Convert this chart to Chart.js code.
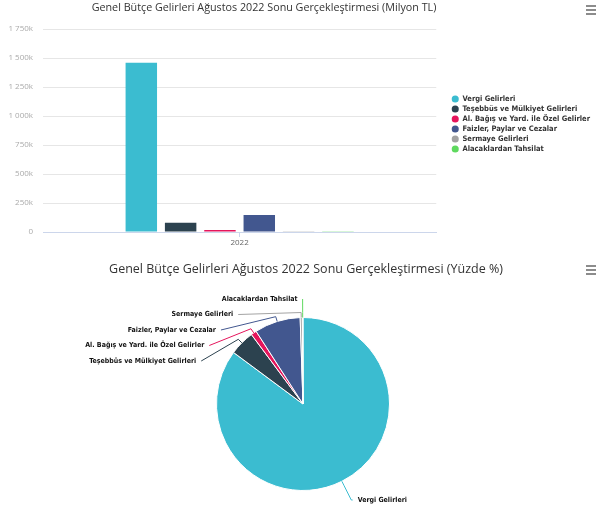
<!DOCTYPE html>
<html>
<head>
<meta charset="utf-8">
<script src="https://cdn.jsdelivr.net/npm/chart.js@4.4.1/dist/chart.umd.min.js"></script>
<style>
  body { margin: 0; background: #fff; }
  canvas { display: block; }
</style>
</head>
<body>
<canvas id="barChart" width="600" height="255"></canvas>
<canvas id="pieChart" width="600" height="253"></canvas>
<script>
var categories = ['2022'];
var seriesNames = [
  'Vergi Gelirleri',
  'Teşebbüs ve Mülkiyet Gelirleri',
  'Al. Bağış ve Yard. ile Özel Gelirler',
  'Faizler, Paylar ve Cezalar',
  'Sermaye Gelirleri',
  'Alacaklardan Tahsilat'
];
// Milyon TL
var seriesValues = [1458000, 80000, 18000, 147000, 7000, 2000];
var seriesColors = ['#3bbcd0', '#2c424f', '#e5155c', '#42578f', '#a3a3a3', '#5fd95f'];
var yTicks = [0, 250000, 500000, 750000, 1000000, 1250000, 1500000, 1750000];

var narrow = '"Liberation Sans Narrow", "DejaVu Sans Condensed", "Liberation Sans", sans-serif';
var titleFont = '"Open Sans", "Liberation Sans", sans-serif';

function fmtK(v) {
  if (v === 0) return '0';
  return String(v / 1000).replace(/\B(?=(\d{3})+(?!\d))/g, ' ') + 'k';
}

// title + menu icon drawn where the original has them
var titlePlugin = {
  id: 'fixedTitle',
  afterDraw: function(chart, args, o) {
    var ctx = chart.ctx;
    ctx.save();
    ctx.font = o.font;
    ctx.fillStyle = '#333';
    ctx.textAlign = 'center';
    ctx.textBaseline = 'middle';
    ctx.fillText(o.text, o.x, o.y);
    ctx.strokeStyle = '#666';
    ctx.lineWidth = 1.5;
    o.menuY.forEach(function(y) {
      ctx.beginPath();
      ctx.moveTo(586, y);
      ctx.lineTo(596, y);
      ctx.stroke();
    });
    ctx.restore();
  }
};

// highcharts-like outside labels with crooked connectors
var pieLabelsPlugin = {
  id: 'pieLabels',
  afterDatasetsDraw: function(chart, args, o) {
    var ctx = chart.ctx;
    var arcs = chart.getDatasetMeta(0).data;
    if (!arcs.length) return;
    var cx = arcs[0].x, cy = arcs[0].y, r = arcs[0].outerRadius;
    var R = r + o.distance;

    var items = arcs.map(function(arc, i) {
      var mid = (arc.startAngle + arc.endAngle) / 2;
      var cos = Math.cos(mid), sin = Math.sin(mid);
      return { i: i, mid: mid, cos: cos, sin: sin, left: cos < 0, ny: cy + R * sin, clamped: false };
    });

    [true, false].forEach(function(side) {
      var group = items.filter(function(it) { return it.left === side; })
        .sort(function(a, b) { return a.ny - b.ny; });
      var prev = -Infinity;
      group.forEach(function(it) {
        var y = Math.max(it.ny, prev + o.spacing);
        if (y < o.top) { y = o.top; it.clamped = true; }
        it.y = y;
        prev = y;
      });
      var next = Infinity;
      for (var k = group.length - 1; k >= 0; k--) {
        var it = group[k];
        var limit = Math.min(o.bottom, next - o.spacing);
        if (it.y > limit) {
          it.y = limit;
          if (limit === o.bottom) it.clamped = true;
        }
        next = it.y;
      }
    });

    function getX(y, left) {
      var dy = y - cy;
      return cx + (left ? -1 : 1) * Math.sqrt(Math.max(R * R - dy * dy, 0));
    }

    ctx.save();
    items.forEach(function(it) {
      var color = chart.data.datasets[0].backgroundColor[it.i];
      var x = getX(it.clamped ? it.ny : it.y, it.left);
      var y = it.y;
      var bx = cx + (r + 5) * it.cos, by = cy + (r + 5) * it.sin;
      var tx = cx + r * it.cos, ty = cy + r * it.sin;
      var crookX = cx + (y - cy) * it.cos / it.sin;

      ctx.strokeStyle = color;
      ctx.lineWidth = 1;
      ctx.beginPath();
      ctx.moveTo(x, y);
      if (it.left ? (crookX >= x && crookX <= bx) : (crookX <= x && crookX >= bx)) {
        ctx.lineTo(crookX, y);
      }
      ctx.lineTo(bx, by);
      ctx.lineTo(tx, ty);
      ctx.stroke();

      var text = chart.data.labels[it.i];
      var lx = it.left ? x - o.padding : x + o.padding;
      ctx.font = o.font;
      ctx.textAlign = it.left ? 'right' : 'left';
      ctx.textBaseline = 'middle';
      ctx.lineJoin = 'round';
      ctx.strokeStyle = '#fff';
      ctx.lineWidth = 2;
      ctx.strokeText(text, lx, y);
      ctx.fillStyle = '#111';
      ctx.fillText(text, lx, y);
    });
    ctx.restore();
  }
};

new Chart(document.getElementById('barChart'), {
  type: 'bar',
  data: {
    labels: categories,
    datasets: seriesNames.map(function(name, i) {
      return {
        label: name,
        data: [seriesValues[i]],
        backgroundColor: seriesColors[i],
        borderWidth: 0,
        categoryPercentage: 0.6,
        barPercentage: 0.8
      };
    })
  },
  options: {
    responsive: false,
    animation: false,
    layout: { padding: { top: 29, right: 0, bottom: 0, left: 0 } },
    scales: {
      x: {
        grid: { offset: false, drawOnChartArea: false, tickLength: 5, color: '#ccd6eb' },
        border: { color: '#ccd6eb' },
        ticks: { color: '#666', padding: 1, font: { family: titleFont, size: 8 } },
        afterFit: function(s) { s.height = 23; }
      },
      y: {
        min: 0,
        max: 1750000,
        afterBuildTicks: function(s) { s.ticks = yTicks.map(function(v) { return { value: v }; }); },
        grid: { color: '#e6e6e6', drawTicks: false },
        border: { display: false },
        ticks: {
          color: '#aaa',
          padding: 10,
          font: { family: titleFont, size: 8 },
          callback: function(v) { return fmtK(v); }
        },
        afterFit: function(s) { s.width = 43; }
      },
      // empty gap between the plot and the legend
      gap: {
        type: 'linear',
        position: 'right',
        grid: { display: false },
        border: { display: false },
        ticks: { display: false },
        afterFit: function(s) { s.width = 13; }
      }
    },
    plugins: {
      legend: {
        position: 'right',
        align: 'start',
        maxWidth: 170,
        title: { display: true, text: '', padding: { top: 51.75, bottom: 0 }, font: { size: 10 } },
        labels: {
          usePointStyle: true,
          pointStyle: 'circle',
          boxWidth: 7,
          boxHeight: 5,
          padding: 2.5,
          color: '#333',
          font: { family: narrow, size: 7.5, weight: 'bold' }
        }
      },
      tooltip: { enabled: false },
      fixedTitle: {
        text: 'Genel Bütçe Gelirleri Ağustos 2022 Sonu Gerçekleştirmesi (Milyon TL)',
        x: 264,
        y: 8,
        font: '10.75px ' + titleFont,
        menuY: [6, 10, 14]
      }
    }
  },
  plugins: [titlePlugin]
});

new Chart(document.getElementById('pieChart'), {
  type: 'pie',
  data: {
    labels: seriesNames,
    datasets: [{
      data: seriesValues,
      backgroundColor: seriesColors,
      borderColor: '#ffffff',
      borderWidth: 1
    }]
  },
  options: {
    responsive: false,
    animation: false,
    layout: { padding: { top: 62, bottom: 17, left: 216, right: 210 } },
    plugins: {
      legend: { display: false },
      tooltip: { enabled: false },
      fixedTitle: {
        text: 'Genel Bütçe Gelirleri Ağustos 2022 Sonu Gerçekleştirmesi (Yüzde %)',
        x: 306,
        y: 14,
        font: '12.5px ' + titleFont,
        menuY: [11, 15, 19]
      },
      pieLabels: {
        distance: 24,
        spacing: 15.5,
        top: 44,
        bottom: 245,
        padding: 5,
        font: 'bold 7px ' + narrow
      }
    }
  },
  plugins: [titlePlugin, pieLabelsPlugin]
});
</script>
</body>
</html>
